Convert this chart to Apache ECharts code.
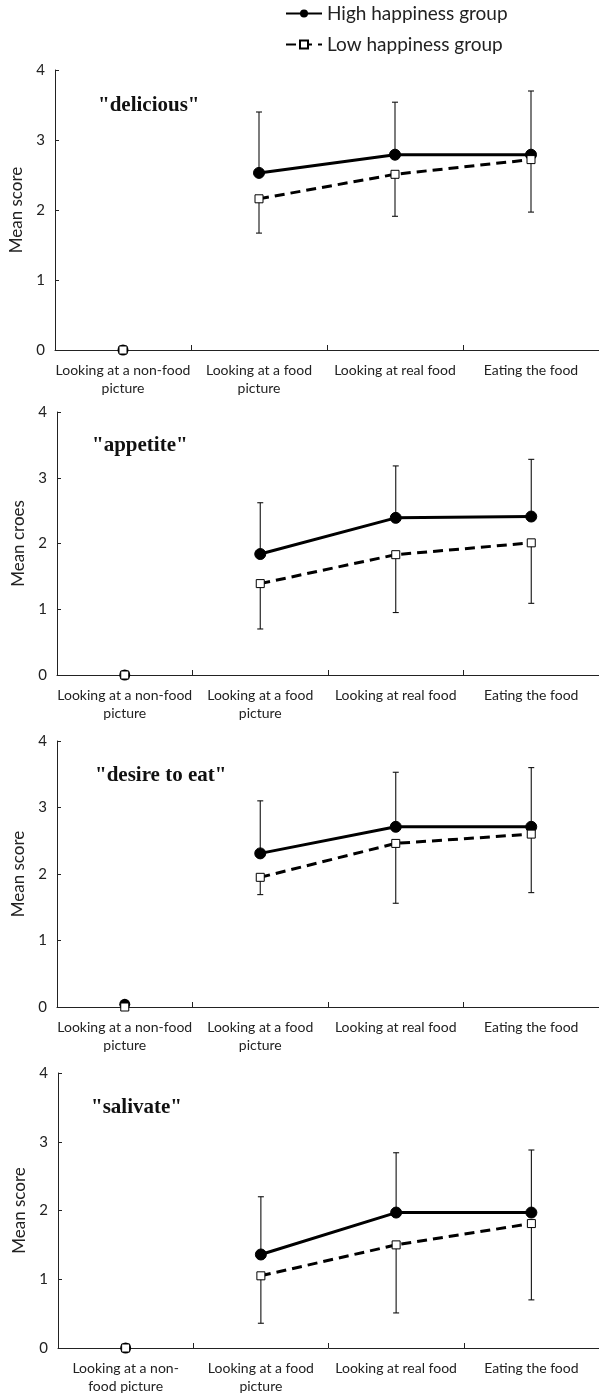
<!DOCTYPE html>
<html>
<head>
<meta charset="utf-8">
<script src="https://cdn.jsdelivr.net/npm/echarts@6/dist/echarts.min.js"></script>
<style>html,body{margin:0;padding:0;background:#fff;}#chart{width:599px;height:1396px;}</style>
</head>
<body>
<div id="chart"></div>
<script>
// ---- data ----
const categories = ['Looking at a non-food\npicture', 'Looking at a food\npicture', 'Looking at real food', 'Eating the food'];
const categoriesSalivate = ['Looking at a non-\nfood picture', 'Looking at a food\npicture', 'Looking at real food', 'Eating the food'];
const panelTitles = ['"delicious"', '"appetite"', '"desire to eat"', '"salivate"'];
const yAxisNames = ['Mean score', 'Mean croes', 'Mean score', 'Mean score'];
const seriesNames = ['High happiness group', 'Low happiness group'];

const deliciousHigh = [0, 2.53, 2.79, 2.79];
const deliciousHighUpper = [null, 3.40, 3.54, 3.70];
const deliciousLow = [0, 2.16, 2.51, 2.72];
const deliciousLowLower = [null, 1.67, 1.91, 1.97];

const appetiteHigh = [0, 1.84, 2.39, 2.41];
const appetiteHighUpper = [null, 2.62, 3.18, 3.28];
const appetiteLow = [0, 1.39, 1.83, 2.01];
const appetiteLowLower = [null, 0.70, 0.95, 1.09];

const desireHigh = [0.04, 2.31, 2.71, 2.71];
const desireHighUpper = [null, 3.10, 3.53, 3.60];
const desireLow = [0, 1.95, 2.46, 2.60];
const desireLowLower = [null, 1.69, 1.56, 1.72];

const salivateHigh = [0, 1.36, 1.97, 1.97];
const salivateHighUpper = [null, 2.20, 2.84, 2.88];
const salivateLow = [0, 1.05, 1.50, 1.81];
const salivateLowLower = [null, 0.36, 0.51, 0.70];

// ---- layout ----
const panels = [
  {cats: categories, high: deliciousHigh, highUp: deliciousHighUpper, low: deliciousLow, lowDn: deliciousLowLower,
   grid: {left: 54, top: 70, width: 545, height: 280}, title: {left: 98, top: 95}},
  {cats: categories, high: appetiteHigh, highUp: appetiteHighUpper, low: appetiteLow, lowDn: appetiteLowLower,
   grid: {left: 57, top: 412, width: 549, height: 263}, title: {left: 92, top: 435}},
  {cats: categories, high: desireHigh, highUp: desireHighUpper, low: desireLow, lowDn: desireLowLower,
   grid: {left: 57, top: 741, width: 544, height: 266}, title: {left: 95, top: 765}},
  {cats: categoriesSalivate, high: salivateHigh, highUp: salivateHighUpper, low: salivateLow, lowDn: salivateLowLower,
   grid: {left: 58, top: 1073, width: 548, height: 275}, title: {left: 91, top: 1097}}
];

const FONT = 'Lato';
const grids = [], xAxes = [], yAxes = [], titles = [], series = [];

function errData(vals, ends) {
  const out = [];
  vals.forEach((v, i) => { if (ends[i] != null) out.push([i, v, ends[i]]); });
  return out;
}
function errorRender(params, api) {
  const i = api.value(0);
  const p0 = api.coord([i, api.value(1)]);
  const p1 = api.coord([i, api.value(2)]);
  const cap = 3;
  return {
    type: 'group',
    children: [
      {type: 'line', shape: {x1: p0[0], y1: p0[1], x2: p1[0], y2: p1[1]}, style: {stroke: '#111', lineWidth: 1.1}},
      {type: 'line', shape: {x1: p1[0] - cap, y1: p1[1], x2: p1[0] + cap, y2: p1[1]}, style: {stroke: '#111', lineWidth: 1.1}}
    ]
  };
}

panels.forEach((p, k) => {
  grids.push(Object.assign({containLabel: false}, p.grid));
  xAxes.push({
    type: 'category', gridIndex: k, data: p.cats, boundaryGap: true,
    axisLine: {lineStyle: {color: '#222', width: 1}},
    axisTick: {show: true, inside: true, length: 5, alignWithLabel: false, lineStyle: {color: '#222'}},
    axisLabel: {interval: 0, color: '#222', fontFamily: FONT, fontSize: 14, lineHeight: 18, margin: 11},
    splitLine: {show: false}
  });
  yAxes.push({
    type: 'value', gridIndex: k, min: 0, max: 4, interval: 1,
    name: yAxisNames[k], nameLocation: 'middle', nameRotate: 90, nameGap: 30,
    nameTextStyle: {color: '#222', fontFamily: FONT, fontSize: 17},
    axisLine: {show: true, lineStyle: {color: '#222', width: 1}},
    axisTick: {show: true, inside: true, length: 4, lineStyle: {color: '#222'}},
    axisLabel: {color: '#222', fontFamily: FONT, fontSize: 15, margin: 10},
    splitLine: {show: false}
  });
  titles.push({
    text: panelTitles[k], left: p.title.left, top: p.title.top, padding: 0,
    textStyle: {fontFamily: 'Liberation Serif', fontWeight: 'bold', fontSize: 21, color: '#111'}
  });
  // error bars
  series.push({type: 'custom', xAxisIndex: k, yAxisIndex: k, z: 1, silent: true,
    renderItem: errorRender, data: errData(p.high, p.highUp)});
  series.push({type: 'custom', xAxisIndex: k, yAxisIndex: k, z: 1, silent: true,
    renderItem: errorRender, data: errData(p.low, p.lowDn)});
  // lines (from 2nd category on)
  series.push({
    name: seriesNames[0], type: 'line', xAxisIndex: k, yAxisIndex: k, z: 3, clip: false,
    data: p.high.map((v, i) => i === 0 ? '-' : v),
    symbol: 'circle', symbolSize: 11, showAllSymbol: true,
    lineStyle: {color: '#000', width: 3},
    itemStyle: {color: '#000', borderColor: '#000'}
  });
  series.push({
    name: seriesNames[1], type: 'line', xAxisIndex: k, yAxisIndex: k, z: 4, clip: false,
    data: p.low.map((v, i) => i === 0 ? '-' : v),
    symbol: 'rect', symbolSize: 8, showAllSymbol: true,
    lineStyle: {color: '#000', width: 3, type: [10, 6]},
    itemStyle: {color: '#fff', borderColor: '#000', borderWidth: 1}
  });
  // isolated first-category points
  series.push({
    name: 'high-first', type: 'scatter', xAxisIndex: k, yAxisIndex: k, z: 3, clip: false,
    data: [[0, p.high[0]]], symbol: 'circle', symbolSize: 11,
    itemStyle: {color: '#000', opacity: 1}
  });
  series.push({
    name: 'low-first', type: 'scatter', xAxisIndex: k, yAxisIndex: k, z: 4, clip: false,
    data: [[0, p.low[0]]], symbol: 'rect', symbolSize: 8,
    itemStyle: {color: '#fff', borderColor: '#000', borderWidth: 1, opacity: 1}
  });
});

const chart = echarts.init(document.getElementById('chart'), null, {renderer: 'canvas'});
chart.setOption({
  animation: false,
  backgroundColor: '#fff',
  title: titles,
  legend: {
    data: seriesNames, orient: 'vertical', left: 285, top: 4, itemGap: 12,
    itemWidth: 36, itemHeight: 10, padding: 0,
    textStyle: {fontFamily: FONT, fontSize: 19, color: '#222'},
    selectedMode: false
  },
  grid: grids, xAxis: xAxes, yAxis: yAxes, series: series
});
</script>
</body>
</html>
